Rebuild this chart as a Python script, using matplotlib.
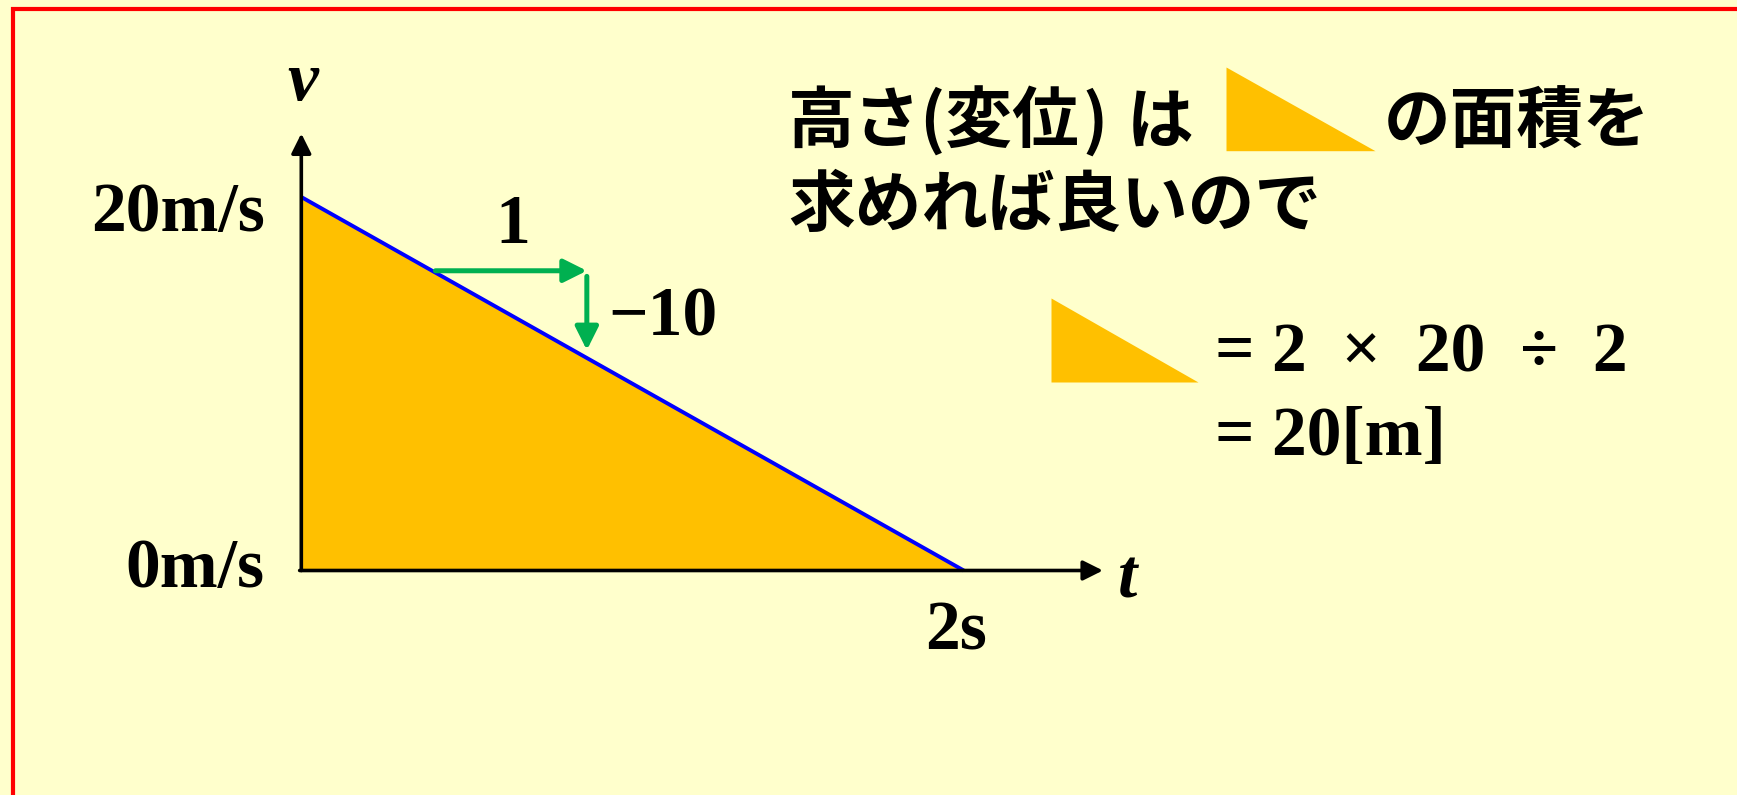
import matplotlib
matplotlib.use("Agg")
import matplotlib.pyplot as plt
from matplotlib.lines import Line2D

# ---- data ----
times = [0, 2]            # s
velocity = [20, 0]        # m/s
v_tick_labels = ["0m/s", "20m/s"]
t_tick_label = "2s"
slope_run = "1"
slope_rise = "\u221210"
jp_line1_parts = ["高さ(変位", ")", "は"]
jp_line1b = "の面積を"
jp_line2 = "求めれば良いので"
eq_line1 = "= 2  \u00d7  20  \u00f7  2"
eq_line2 = "= 20[m]"

W, H = 1737, 795
BG = "#FFFFCC"
FILL = "#FFC000"
BLUE = "#0000FF"
GREEN = "#00B050"
SERIF = ["Liberation Serif", "DejaVu Serif"]
JP = ["Noto Sans CJK JP", "DejaVu Sans"]

fig = plt.figure(figsize=(W / 100, H / 100), dpi=100, facecolor=BG)

def fx(x):
    return x / W

def fy(y):
    return 1 - y / H

# main axes spanning the figure; data -> pixel mapping
x0_px, x2_px = 301.3, 963.8     # t = 0 and t = 2
y0_px, y20_px = 570.5, 197.0    # v = 0 and v = 20
sx = (x2_px - x0_px) / 2.0
sy = (y0_px - y20_px) / 20.0
ax = fig.add_axes([0, 0, 1, 1])
ax.set_facecolor(BG)
ax.set_xlim(-x0_px / sx, (W - x0_px) / sx)
ax.set_ylim((y0_px - H) / sy, y0_px / sy)
ax.axis("off")

# red frame (top and left)
fig.add_artist(Line2D([fx(10.5), 1.0], [fy(8.7), fy(8.7)], color="#FF0000", lw=3.0,
                      transform=fig.transFigure, solid_capstyle="butt"))
fig.add_artist(Line2D([fx(12.8), fx(12.8)], [fy(6.7), 0.0], color="#FF0000", lw=3.0,
                      transform=fig.transFigure, solid_capstyle="butt"))

# area under the v-t line
ax.fill_between(times, velocity, 0, color=FILL, lw=0, zorder=1)
ax.plot(times, velocity, color=BLUE, lw=2.8, zorder=3, solid_capstyle="butt")

# axes with arrows
axis_style = dict(arrowstyle="-|>,head_length=0.6,head_width=0.3", color="black",
                  lw=2.6, shrinkA=0, shrinkB=0, mutation_scale=20)
ax.annotate("", xy=(0, 23.4), xytext=(0, 0), arrowprops=axis_style, zorder=4)
ax.annotate("", xy=(2.42, 0), xytext=(-0.005, 0), arrowprops=axis_style, zorder=4)

# slope arrows
g_style = dict(arrowstyle="-|>,head_length=0.7,head_width=0.35", color=GREEN,
               lw=3.6, shrinkA=0, shrinkB=0, mutation_scale=20)
ax.annotate("", xy=(0.862, 16.05), xytext=(0.405, 16.05), arrowprops=g_style, zorder=5)
ax.annotate("", xy=(0.862, 11.8), xytext=(0.862, 15.75), arrowprops=g_style, zorder=5)

tfont = dict(family=SERIF, fontweight="bold", fontsize=50, color="black")

# axis labels
fig.text(fx(303), fy(100), "v", family=SERIF, fontweight="bold", fontstyle="italic",
         fontsize=50, ha="center", va="baseline")
fig.text(fx(1128), fy(597), "t", family=SERIF, fontweight="bold", fontstyle="italic",
         fontsize=50, ha="center", va="baseline")
fig.text(fx(265), fy(231.5), v_tick_labels[1], ha="right", va="baseline", **tfont)
fig.text(fx(265), fy(586.5), v_tick_labels[0], ha="right", va="baseline", **tfont)
fig.text(fx(956), fy(650), t_tick_label, ha="center", va="baseline", **tfont)
fig.text(fx(513), fy(243), slope_run, ha="center", va="baseline", **tfont)
fig.text(fx(608), fy(335), slope_rise, ha="left", va="baseline", **tfont)

# Japanese explanation
jfont = dict(family=JP, fontweight="bold", fontsize=48, color="black")
jp_x = [788, 1082, 1127]
for part, xp in zip(jp_line1_parts, jp_x):
    fig.text(fx(xp), fy(143), part, ha="left", va="baseline", **jfont)
fig.text(fx(1384), fy(143), jp_line1b, ha="left", va="baseline", **jfont)
fig.text(fx(788), fy(226), jp_line2, ha="left", va="baseline", **jfont)

# triangle icons (miniatures of the area)
def icon(left, top, right, bottom):
    a = fig.add_axes([fx(left), fy(bottom), (right - left) / W, (bottom - top) / H])
    a.fill_between(times, velocity, 0, color=FILL, lw=0)
    a.set_xlim(times[0], times[-1])
    a.set_ylim(0, max(velocity))
    a.axis("off")
    a.patch.set_alpha(0)

icon(1226, 67, 1375, 150.7)
icon(1051, 298, 1198, 382)

# equation
fig.text(fx(1215), fy(371.7), eq_line1, ha="left", va="baseline", **tfont)
fig.text(fx(1215), fy(455), eq_line2, ha="left", va="baseline", **tfont)

fig.savefig("out.png", dpi=100, facecolor=BG)
